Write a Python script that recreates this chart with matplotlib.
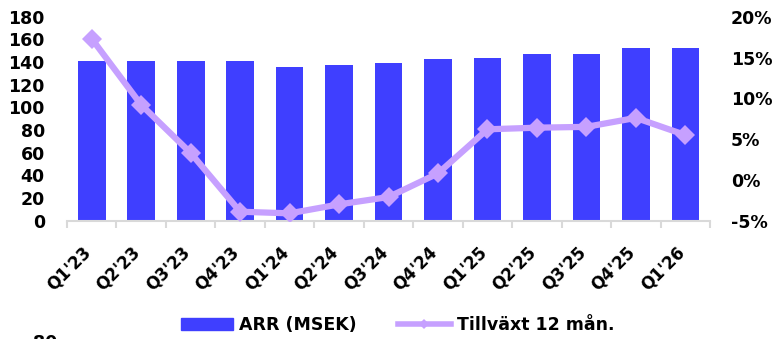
import matplotlib
matplotlib.use("Agg")
import matplotlib.pyplot as plt
from matplotlib.lines import Line2D
from matplotlib.patches import Patch
from matplotlib.transforms import ScaledTranslation
import numpy as np

quarters = ["Q1'23", "Q2'23", "Q3'23", "Q4'23", "Q1'24", "Q2'24", "Q3'24",
            "Q4'24", "Q1'25", "Q2'25", "Q3'25", "Q4'25", "Q1'26"]
arr_msek = [141, 141, 141, 141, 135.5, 137.5, 139, 142.5, 143.5, 147, 147, 152, 152]
growth_pct = [17.3, 9.2, 3.3, -3.9, -4.1, -3.0, -2.1, 0.8, 6.2, 6.4, 6.5, 7.6, 5.5]
left_ticks = list(range(0, 181, 20))
right_ticks = [-5, 0, 5, 10, 15, 20]

BAR = "#3F3FFF"
LINE = "#C6A0FF"
GRID = "#D9D9D9"

plt.rcParams["font.family"] = ["DejaVu Sans"]
plt.rcParams["font.weight"] = "bold"
FS = 12.5

fig = plt.figure(figsize=(7.81, 3.39), dpi=100)
ax = fig.add_axes([0.0858, 0.349, 0.9092 - 0.0858, 0.9507 - 0.349])
ax2 = ax.twinx()

x = np.arange(len(quarters))
ax.bar(x, arr_msek, width=0.56, color=BAR, zorder=2)
ax2.plot(x, growth_pct, color=LINE, lw=4.5, marker="D", ms=10,
         markeredgewidth=0, zorder=3)

ax.set_xlim(-0.5, len(quarters) - 0.5)
ax.set_ylim(0, 180)
ax2.set_ylim(-5, 20)

ax.set_yticks(left_ticks)
ax.set_yticklabels([str(v) for v in left_ticks])
ax2.set_yticks(right_ticks)
ax2.set_yticklabels([f"{v}%" for v in right_ticks])

for a in (ax, ax2):
    for s in a.spines.values():
        s.set_visible(False)
ax.spines["bottom"].set_visible(True)
ax.spines["bottom"].set_color(GRID)
ax.spines["bottom"].set_linewidth(1.5)

ax.tick_params(axis="y", length=0, pad=16, labelsize=FS)
ax2.tick_params(axis="y", length=0, pad=15, labelsize=FS)

ax.set_xticks(x)
ax.set_xticks(np.arange(-0.5, len(quarters), 1.0), minor=True)
ax.tick_params(axis="x", which="minor", length=5, width=1.5, color=GRID)
ax.tick_params(axis="x", which="major", length=0, pad=16, labelsize=12)
ax.set_xticklabels(quarters, rotation=45, ha="right", va="top",
                   rotation_mode="anchor")
offset = ScaledTranslation(-10 / 100, 0, fig.dpi_scale_trans)
for lab in ax.get_xticklabels():
    lab.set_transform(lab.get_transform() + offset)

handles = [Patch(color=BAR),
           Line2D([], [], color=LINE, lw=4, marker="D", ms=5, markeredgewidth=0)]
fig.legend(handles, ["ARR (MSEK)", "Tillväxt 12 mån."], loc="center",
           bbox_to_anchor=(0.509, 1 - 325 / 339), ncol=2, frameon=False,
           prop={"size": FS, "weight": "bold"}, handlelength=3.0,
           handleheight=0.75, columnspacing=2.4, handletextpad=0.35)

fig.text(0.058, 1 - 334 / 339, "80", ha="center", va="top",
         fontsize=FS, fontweight="bold")

fig.savefig("out.png", dpi=100)
